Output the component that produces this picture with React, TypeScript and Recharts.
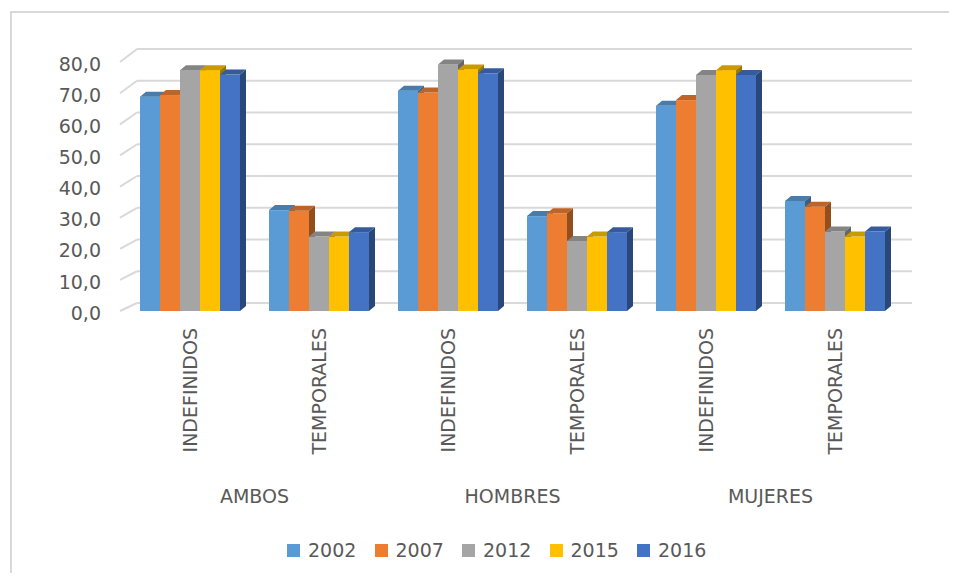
import React from 'react';
import { BarChart, Bar, XAxis, YAxis, CartesianGrid, Legend } from 'recharts';

const categorias = ['INDEFINIDOS', 'TEMPORALES', 'INDEFINIDOS', 'TEMPORALES', 'INDEFINIDOS', 'TEMPORALES'];
const grupos = ['AMBOS', 'HOMBRES', 'MUJERES'];
const anios = ['2002', '2007', '2012', '2015', '2016'];
const colores = ['#5B9BD5', '#ED7D31', '#A5A5A5', '#FFC000', '#4472C4'];

const v2002 = [68.0, 32.0, 69.9, 30.1, 65.1, 34.9];
const v2007 = [68.5, 31.8, 69.3, 31.0, 66.9, 33.1];
const v2012 = [76.4, 23.6, 78.2, 22.2, 74.9, 25.2];
const v2015 = [76.4, 23.6, 76.6, 23.6, 76.4, 23.6];
const v2016 = [75.0, 25.0, 75.4, 25.0, 74.9, 25.2];
const series = [v2002, v2007, v2012, v2015, v2016];

const yTicks = [0, 10, 20, 30, 40, 50, 60, 70, 80];

const data = categorias.map((tipo, i) => {
    const row: Record<string, any> = { id: `${grupos[Math.floor(i / 2)]}-${tipo}`, tipo };
    anios.forEach((a, k) => { row[a] = series[k][i]; });
    return row;
});

// layout
const W = 957;
const H = 581;
const LEFT = 125.5;
const RIGHT = 899.5;
const TOP = 58.8;
const BOTTOM = 311;
const FONT = '"DejaVu Sans", sans-serif';
const TEXT = '#595959';
const GRID = '#d9d9d9';
const DX = 6;
const DY = 5;

const shade = (hex: string, f: number) => {
    const n = parseInt(hex.slice(1), 16);
    const r = Math.round(((n >> 16) & 255) * f);
    const g = Math.round(((n >> 8) & 255) * f);
    const b = Math.round((n & 255) * f);
    return `rgb(${r},${g},${b})`;
};

const Bar3D = (props: any) => {
    const { x, y, width, height, fill } = props;
    if (!height || height <= 0) return null;
    const top = `${x},${y} ${x + width},${y} ${x + width + DX},${y - DY} ${x + DX},${y - DY}`;
    const side = `${x + width},${y} ${x + width + DX},${y - DY} ${x + width + DX},${y + height - DY} ${x + width},${y + height}`;
    return (
        <g>
            <rect x={x} y={y} width={width} height={height} fill={fill} />
            <polygon points={top} fill={shade(fill, 0.8)} />
            <polygon points={side} fill={shade(fill, 0.62)} />
        </g>
    );
};

const labelY = (y: number) => BOTTOM + 2 + (y - BOTTOM) * 0.987;
const backY = (y: number) => BOTTOM - 8 + (y - BOTTOM) * 1.007;

const gridLine = (p: any) => {
    const y = p.y1;
    const fy = labelY(y) - 2;
    const gy = backY(y);
    return (
        <g key={p.key}>
            <line x1={120} y1={fy} x2={137} y2={gy} stroke={GRID} strokeWidth={2} />
            <line x1={137} y1={gy} x2={912} y2={gy} stroke={GRID} strokeWidth={2} />
        </g>
    );
};

const YTick = (props: any) => {
    const { y, payload } = props;
    return (
        <text x={101} y={labelY(y)} dy="0.35em" textAnchor="end" fill={TEXT} fontSize={19} fontFamily={FONT}>
            {payload.value.toFixed(1).replace('.', ',')}
        </text>
    );
};

const band = (RIGHT - LEFT) / categorias.length;

const XTick = (props: any) => {
    const { x, y, index } = props;
    const ty = y + 17;
    return (
        <g>
            <text
                x={x}
                y={ty}
                dy="0.35em"
                transform={`rotate(-90 ${x} ${ty})`}
                textAnchor="end"
                fill={TEXT}
                fontSize={19}
                fontFamily={FONT}
            >
                {categorias[index]}
            </text>
            {index % 2 === 0 && (
                <text x={x + band / 2} y={y + 192} textAnchor="middle" fill={TEXT} fontSize={19} fontFamily={FONT}>
                    {grupos[index / 2]}
                </text>
            )}
        </g>
    );
};

const Leyenda = () => (
    <div style={{ display: 'flex', paddingLeft: 287, fontFamily: FONT, fontSize: 19, color: TEXT, lineHeight: '24px' }}>
        {anios.map((a, k) => (
            <div key={a} style={{ display: 'flex', alignItems: 'center', width: 87.5 }}>
                <span style={{ display: 'inline-block', width: 13, height: 13, background: colores[k], marginRight: 8 }} />
                <span>{a}</span>
            </div>
        ))}
    </div>
);

export default function App() {
    return (
        <div style={{ position: 'relative', width: W, height: H, margin: -8, overflow: 'hidden', background: '#fff' }}>
            <div
                style={{
                    position: 'absolute',
                    left: 10,
                    top: 11,
                    width: 1200,
                    height: 1200,
                    borderLeft: `2px solid ${GRID}`,
                    borderTop: `2px solid ${GRID}`,
                }}
            />
            <div style={{ position: 'absolute', left: 0, top: 0 }}>
                <BarChart
                    width={W}
                    height={H}
                    data={data}
                    margin={{ top: TOP, right: W - RIGHT, bottom: 70, left: 0 }}
                    barCategoryGap={14.5}
                    barGap={0}
                >
                    <CartesianGrid vertical={false} horizontal={gridLine} />
                    <YAxis
                        width={LEFT}
                        domain={[0, 80]}
                        ticks={yTicks}
                        axisLine={false}
                        tickLine={false}
                        tick={<YTick />}
                        interval={0}
                    />
                    <XAxis
                        dataKey="id"
                        height={H - BOTTOM - 70}
                        axisLine={false}
                        tickLine={false}
                        tickSize={0}
                        tickMargin={0}
                        interval={0}
                        tick={<XTick />}
                    />
                    <Legend
                        layout="horizontal"
                        verticalAlign="middle"
                        align="center"
                        content={<Leyenda />}
                        wrapperStyle={{ top: 538, left: 0, width: W }}
                    />
                    {anios.map((a, k) => (
                        <Bar key={a} dataKey={a} fill={colores[k]} shape={<Bar3D />} isAnimationActive={false} />
                    ))}
                </BarChart>
            </div>
        </div>
    );
}
